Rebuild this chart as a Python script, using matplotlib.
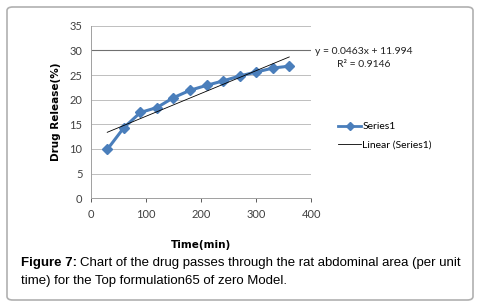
import matplotlib
matplotlib.use("Agg")
import matplotlib.pyplot as plt
from matplotlib.patches import FancyBboxPatch
from matplotlib.lines import Line2D
import numpy as np

time_min = [30, 60, 90, 120, 150, 180, 210, 240, 270, 300, 330, 360]
release = [9.9, 14.3, 17.4, 18.4, 20.4, 21.9, 22.9, 23.8, 24.8, 25.6, 26.4, 26.8]
slope = 0.0463
intercept = 11.994
r2 = 0.9146
x_ticks = [0, 100, 200, 300, 400]
y_ticks = [0, 5, 10, 15, 20, 25, 30, 35]

W, H = 481, 305
fig = plt.figure(figsize=(W / 100, H / 100), dpi=100)
fig.patch.set_facecolor("white")

# outer rounded frame
frame = FancyBboxPatch((7 / W, 5 / H), 466 / W, 293 / H,
                       boxstyle="round,pad=0,rounding_size=0.012",
                       transform=fig.transFigure, facecolor="none",
                       edgecolor="#b0b0b0", linewidth=1.2, zorder=-5)
fig.patches.append(frame)

left, right, top, bottom = 90.7, 311.3, 25.7, 198.3
ax = fig.add_axes([left / W, 1 - bottom / H, (right - left) / W, (bottom - top) / H])
ax.set_facecolor("none")
ax.set_xlim(0, 400)
ax.set_ylim(0, 35)
ax.set_xticks(x_ticks)
ax.set_yticks(y_ticks)
tick_font = "Lato"
for lab in ax.get_xticklabels() + ax.get_yticklabels():
    lab.set_fontfamily(tick_font)
ax.tick_params(axis="both", labelsize=8, colors="#404040", length=3, width=0.6)
ax.tick_params(axis="y", length=0, pad=6)
ax.tick_params(axis="x", direction="out", pad=5)
ax.grid(axis="y", color="#bfbfbf", linewidth=0.7)
ax.set_axisbelow(True)
for s in ["top", "right"]:
    ax.spines[s].set_visible(False)
ax.spines["left"].set_color("#a0a0a0")
ax.spines["bottom"].set_color("#a0a0a0")
ax.spines["left"].set_linewidth(0.7)
ax.spines["bottom"].set_linewidth(0.7)

# darker 30 gridline
ax.axhline(30, color="#707070", linewidth=0.8, zorder=1)

ax.plot(time_min, release, color="#4a7ebb", linewidth=2.2, marker="D",
        markersize=5.5, markerfacecolor="#4a7ebb", markeredgecolor="#4a7ebb", zorder=3)
xt = np.array([time_min[0], time_min[-1]])
ax.plot(xt, slope * xt + intercept, color="black", linewidth=0.6, zorder=4)

ax.set_ylabel("Drug Release(%)", fontsize=7.5, fontweight="bold", family="DejaVu Sans", labelpad=6)
ax.set_xlabel("Time(min)", fontsize=7.5, fontweight="bold", family="DejaVu Sans", labelpad=14)

fig.text(315 / W, 1 - 51 / H, f"y = {slope}x + {intercept}", fontsize=7.5,
         family=tick_font, va="center", ha="left", color="#222222")
fig.text(337 / W, 1 - 64 / H, f"R² = {r2}", fontsize=7.5,
         family=tick_font, va="center", ha="left", color="#222222")

handles = [Line2D([], [], color="#4a7ebb", linewidth=2.0, marker="D", markersize=4.5),
           Line2D([], [], color="black", linewidth=0.6)]
leg = fig.legend(handles, ["Series1", "Linear (Series1)"], loc="center left",
                 bbox_to_anchor=(329 / W, 1 - 136 / H), frameon=False,
                 prop={"family": tick_font, "size": 7.5}, handlelength=2.2,
                 handletextpad=0.1, labelspacing=0.9)

t1 = fig.text(21 / W, 1 - 263 / H, "Figure 7:", fontsize=9.5, fontweight="bold",
              family="Liberation Sans", va="center", ha="left")
fig.canvas.draw()
bb = t1.get_window_extent(renderer=fig.canvas.get_renderer())
fig.text((bb.x1 + 3) / W, 1 - 263 / H,
         "Chart of the drug passes through the rat abdominal area (per unit",
         fontsize=9.5, family="Liberation Sans", va="center", ha="left")
fig.text(21 / W, 1 - 281 / H,
         "time) for the Top formulation65 of zero Model.",
         fontsize=9.5, family="Liberation Sans", va="center", ha="left")

fig.savefig("out.png", dpi=100)
